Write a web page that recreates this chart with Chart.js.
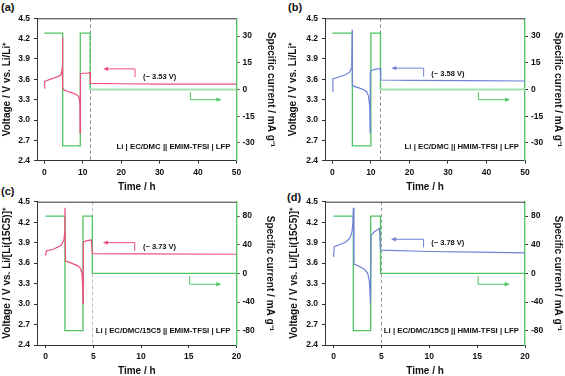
<!DOCTYPE html>
<html>
<head>
<meta charset="utf-8">
<script src="https://cdn.jsdelivr.net/npm/chart.js"></script>
<style>
  body { margin: 0; background: #fff; width: 565px; height: 376px; overflow: hidden; position: relative; font-family: 'Liberation Sans', Arial, sans-serif; }
  .tag { position: absolute; font-weight: bold; font-size: 11px; line-height: 12px; color: #111; }
</style>
</head>
<body>
<div class="tag" style="left:1px;top:1px">(a)</div>
<div class="tag" style="left:288px;top:1px">(b)</div>
<div class="tag" style="left:1px;top:185px">(c)</div>
<div class="tag" style="left:287px;top:191px">(d)</div>
<script>
  'use strict';

  /* ===================== Data ===================== */

  // (a) Li | EC/DMC || EMIM-TFSI | LFP
  const timeA = [0, 0.1, 0.5, 1.5, 2.5, 3.5, 4.2, 4.5, 4.68, 4.75, 4.8, 5.2, 6.1, 7.2, 8.2, 8.9, 9.15, 9.28, 9.3, 9.4, 10.0, 11.0, 11.8, 11.9, 12.0, 20, 30, 50];
  const voltA = [3.47, 3.57, 3.58, 3.60, 3.62, 3.64, 3.66, 3.70, 3.78, 4.22, 3.47, 3.44, 3.42, 3.40, 3.38, 3.35, 3.30, 3.20, 2.81, 3.68, 3.69, 3.69, 3.70, 3.70, 3.54, 3.535, 3.53, 3.53];
  const stepTimeA = [0, 4.78, 4.78, 9.36, 9.36, 11.9, 11.9, 50];
  const currA = [31.7, 31.7, -31.7, -31.7, 31.7, 31.7, 0, 0];

  // (b) Li | EC/DMC || HMIM-TFSI | LFP
  const timeB = [0, 0.15, 1.5, 3.6, 4.5, 4.9, 5.05, 5.15, 5.2, 5.5, 7.1, 8.4, 9.0, 9.4, 9.7, 9.8, 9.85, 10.05, 11.4, 12.3, 12.45, 12.55, 20, 35, 50];
  const voltB = [3.42, 3.61, 3.63, 3.67, 3.71, 3.76, 3.85, 4.33, 3.52, 3.50, 3.47, 3.44, 3.41, 3.35, 3.20, 2.81, 3.70, 3.73, 3.75, 3.76, 3.76, 3.59, 3.585, 3.58, 3.575];
  const stepTimeB = [0, 5.2, 5.2, 10.0, 10.0, 12.5, 12.5, 50];
  const currB = [31.7, 31.7, -31.7, -31.7, 31.7, 31.7, 0, 0];

  // (c) Li | EC/DMC/15C5 || EMIM-TFSI | LFP
  const timeC = [0, 0.07, 0.77, 1.64, 1.92, 2.0, 2.03, 2.08, 2.52, 3.39, 3.67, 3.81, 3.88, 3.92, 3.95, 4.34, 4.79, 4.9, 10, 20];
  const voltC = [3.71, 3.78, 3.80, 3.86, 3.94, 4.05, 4.41, 3.63, 3.61, 3.56, 3.52, 3.45, 3.28, 3.01, 3.91, 3.93, 3.94, 3.74, 3.735, 3.73];
  const stepTimeC = [0, 2.03, 2.03, 3.92, 3.92, 4.9, 4.9, 20];
  const currC = [80, 80, -80, -80, 80, 80, 0, 0];

  // (d) Li | EC/DMC/15C5 || HMIM-TFSI | LFP
  const timeD = [0, 0.07, 0.6, 1.29, 1.71, 1.92, 2.02, 2.06, 2.13, 2.69, 3.22, 3.57, 3.74, 3.85, 3.92, 4.27, 4.79, 4.9, 10, 15, 20];
  const voltD = [3.69, 3.84, 3.87, 3.91, 3.97, 4.06, 4.2, 4.41, 3.59, 3.55, 3.51, 3.45, 3.33, 3.01, 4.01, 4.06, 4.11, 3.79, 3.77, 3.76, 3.75];
  const stepTimeD = [0, 2.06, 2.06, 3.88, 3.88, 4.9, 4.9, 20];
  const currD = [80, 80, -80, -80, 80, 80, 0, 0];

  // tick labels
  const voltTicks = [2.4, 2.7, 3.0, 3.3, 3.6, 3.9, 4.2, 4.5];
  const currTicksAB = [-30, -15, 0, 15, 30];
  const currTicksCD = [-80, -40, 0, 40, 80];
  const timeTicksAB = [0, 10, 20, 30, 40, 50];
  const timeTicksCD = [0, 5, 10, 15, 20];

  /* ===================== Styles ===================== */

  const RED = '#ec4f7c';
  const BLUE = '#6f82d6';
  const GREEN = '#4fc462';
  const AXIS = '#333';
  const FONT = "'Liberation Sans', Arial, sans-serif";

  /* ===================== Extras plugin ===================== */

  function arrowHead(ctx, x, y, dir, color) {
    ctx.fillStyle = color;
    ctx.beginPath();
    ctx.moveTo(x, y);
    ctx.lineTo(x - dir * 5, y - 2.2);
    ctx.lineTo(x - dir * 5, y + 2.2);
    ctx.closePath();
    ctx.fill();
  }

  const extras = {
    id: 'extras',
    beforeDatasetsDraw(chart, args, o) {
      const { ctx, chartArea: a, scales: { x } } = chart;
      const dx = Math.round(x.getPixelForValue(o.rest)) + 0.5;
      ctx.save();
      ctx.strokeStyle = o.dashColor;
      ctx.lineWidth = 1;
      ctx.setLineDash([3.5, 2.5]);
      ctx.beginPath();
      ctx.moveTo(dx, a.top);
      ctx.lineTo(dx, a.bottom);
      ctx.stroke();
      ctx.restore();
    },
    afterDatasetsDraw(chart, args, o) {
      const { ctx, chartArea: a, scales: { x, y } } = chart;
      ctx.save();
      // top frame
      ctx.strokeStyle = AXIS;
      ctx.lineWidth = 1;
      ctx.beginPath();
      ctx.moveTo(a.left, a.top + 0.5);
      ctx.lineTo(a.right, a.top + 0.5);
      ctx.stroke();

      // arrow pointing to left axis
      const L = o.left;
      const lx1 = x.getPixelForValue(L.x1), lx2 = x.getPixelForValue(L.x2);
      const ly = y.getPixelForValue(L.y), ly2 = y.getPixelForValue(L.yDown);
      ctx.strokeStyle = o.color;
      ctx.beginPath();
      ctx.moveTo(lx1, ly2);
      ctx.lineTo(lx1, ly);
      ctx.lineTo(lx2 + 4, ly);
      ctx.stroke();
      arrowHead(ctx, lx2, ly, -1, o.color);

      // arrow pointing to right axis
      const R = o.right;
      const rx1 = x.getPixelForValue(R.x1), rx2 = x.getPixelForValue(R.x2);
      const ry1 = y.getPixelForValue(R.y1), ry2 = y.getPixelForValue(R.y2);
      ctx.strokeStyle = GREEN;
      ctx.beginPath();
      ctx.moveTo(rx1, ry1);
      ctx.lineTo(rx1, ry2);
      ctx.lineTo(rx2 - 4, ry2);
      ctx.stroke();
      arrowHead(ctx, rx2, ry2, 1, GREEN);

      // labels
      ctx.fillStyle = '#111';
      ctx.font = `bold 7.5px ${FONT}`;
      ctx.textBaseline = 'middle';
      ctx.textAlign = 'left';
      ctx.fillText(o.note.text, x.getPixelForValue(o.note.x), y.getPixelForValue(o.note.y));
      ctx.font = `bold 7.8px ${FONT}`;
      ctx.textAlign = 'right';
      ctx.fillText(o.cell, a.right - 6, a.bottom - 14);
      ctx.restore();
    }
  };

  /* ===================== Panels ===================== */

  function xy(ts, vs) {
    return ts.map((t, i) => ({ x: t, y: vs[i] }));
  }

  function setTicks(values) {
    return scale => { scale.ticks = values.map(v => ({ value: v })); };
  }

  function panel(p) {
    const canvas = document.createElement('canvas');
    canvas.width = p.box.w;
    canvas.height = p.box.h;
    canvas.style.cssText = `position:absolute;left:${p.box.x}px;top:${p.box.y}px`;
    document.body.appendChild(canvas);

    const leftW = p.plot.l - p.box.x;
    const rightW = p.box.x + p.box.w - p.plot.r;
    const bottomH = p.box.y + p.box.h - p.plot.b;
    const tickFont = { family: FONT, size: 8.5, weight: 'bold' };
    const titleFont = { family: FONT, size: 10, weight: 'bold' };
    // rest period of the current trace (0 mA/g) drawn in a paler green when asked
    const restSeg = {
      borderColor: c => (p.restColor && c.p0.parsed.y === 0 && c.p1.parsed.y === 0) ? p.restColor : GREEN,
      borderWidth: c => (p.restColor && c.p0.parsed.y === 0 && c.p1.parsed.y === 0) ? 2 : 1.3
    };

    new Chart(canvas, {
      type: 'line',
      data: {
        datasets: [
          { data: xy(p.time, p.volt), borderColor: p.color, borderWidth: 1.2, yAxisID: 'y' },
          { data: xy(p.stepTime, p.curr), borderColor: GREEN, borderWidth: 1.3, yAxisID: 'y1', segment: restSeg }
        ]
      },
      options: {
        responsive: false,
        animation: false,
        devicePixelRatio: 1,
        layout: { padding: { top: p.plot.t - p.box.y, left: 0, right: 0, bottom: 0 } },
        elements: { point: { radius: 0 }, line: { tension: 0 } },
        plugins: {
          legend: { display: false },
          tooltip: { enabled: false },
          extras: { rest: p.rest, dashColor: p.dashColor, color: p.color, left: p.left, right: p.right, note: p.note, cell: p.cell }
        },
        scales: {
          x: {
            type: 'linear',
            min: p.xMin,
            max: p.xMax,
            afterBuildTicks: setTicks(p.timeTicks),
            afterFit: s => { s.height = bottomH; },
            grid: { drawOnChartArea: false, tickLength: 3, color: AXIS },
            border: { color: AXIS, width: 1 },
            ticks: { font: tickFont, color: '#111', padding: 4, maxRotation: 0, callback: v => String(v) },
            title: { display: true, text: 'Time / h', font: titleFont, color: '#111', padding: { top: 0, bottom: p.box.y + p.box.h - p.titleY - 6 } }
          },
          y: {
            position: 'left',
            min: 2.4,
            max: 4.5,
            afterBuildTicks: setTicks(voltTicks),
            afterFit: s => { s.width = leftW; },
            grid: { drawOnChartArea: false, tickLength: 3, color: AXIS },
            border: { color: AXIS, width: 1 },
            ticks: { font: tickFont, color: '#111', padding: 4, callback: v => v.toFixed(1) },
            title: { display: true, text: p.vTitle, font: titleFont, color: '#111', padding: { top: p.leftTitleX - p.box.x - 6, bottom: 0 } }
          },
          y1: {
            position: 'right',
            min: p.cMin,
            max: p.cMax,
            afterBuildTicks: setTicks(p.currTicks),
            afterFit: s => { s.width = rightW; },
            grid: { drawOnChartArea: false, tickLength: 3, color: AXIS },
            border: { color: GREEN, width: 1.3 },
            ticks: { font: tickFont, color: '#111', padding: 3, callback: v => String(v) },
            title: { display: true, text: 'Specific current / mA g\u207B\u00B9', font: titleFont, color: '#111', padding: { top: p.box.x + p.box.w - p.rightTitleX - 6, bottom: 0 } }
          }
        }
      },
      plugins: [extras]
    });
  }

  const vTitleAB = 'Voltage / V vs. Li/Li\u207A';
  const vTitleCD = 'Voltage / V vs. Li/[Li(15C5)]\u207A';

  panel({
    box: { x: 0, y: 0, w: 282, h: 196 }, plot: { l: 37, r: 236.5, t: 18.3, b: 160.7 },
    titleY: 187.5, leftTitleX: 7.5, rightTitleX: 271,
    time: timeA, volt: voltA, stepTime: stepTimeA, curr: currA, color: RED, restColor: '#a6dfb0',
    xMin: -1.9, xMax: 50, timeTicks: timeTicksAB, cMin: -40, cMax: 40, currTicks: currTicksAB,
    vTitle: vTitleAB, rest: 11.9, dashColor: '#8c8c8c',
    left: { x1: 23.6, x2: 15.3, y: 3.754, yDown: 3.63 },
    right: { x1: 38.0, y1: 3.41, y2: 3.30, x2: 46.1 },
    note: { x: 25.7, y: 3.64, text: '(~ 3.53 V)' },
    cell: 'Li | EC/DMC || EMIM-TFSI | LFP'
  });

  panel({
    box: { x: 283, y: 0, w: 282, h: 196 }, plot: { l: 325, r: 525, t: 18.3, b: 160.7 },
    titleY: 187.5, leftTitleX: 293.3, rightTitleX: 558,
    time: timeB, volt: voltB, stepTime: stepTimeB, curr: currB, color: BLUE, restColor: '#a6dfb0',
    xMin: -1.9, xMax: 50, timeTicks: timeTicksAB, cMin: -40, cMax: 40, currTicks: currTicksAB,
    vTitle: vTitleAB, rest: 12.5, dashColor: '#8c8c8c',
    left: { x1: 23.7, x2: 15.3, y: 3.765, yDown: 3.64 },
    right: { x1: 37.9, y1: 3.41, y2: 3.30, x2: 46.1 },
    note: { x: 25.7, y: 3.68, text: '(~ 3.58 V)' },
    cell: 'Li | EC/DMC || HMIM-TFSI | LFP'
  });

  panel({
    box: { x: 0, y: 184, w: 282, h: 196 }, plot: { l: 37, r: 236.5, t: 201.7, b: 345 },
    titleY: 371.7, leftTitleX: 7.3, rightTitleX: 270,
    time: timeC, volt: voltC, stepTime: stepTimeC, curr: currC, color: RED,
    xMin: -0.9, xMax: 20, timeTicks: timeTicksCD, cMin: -100, cMax: 100, currTicks: currTicksCD,
    vTitle: vTitleCD, rest: 4.9, dashColor: '#bdbdbd',
    left: { x1: 9.34, x2: 6.0, y: 3.90, yDown: 3.78 },
    right: { x1: 15.1, y1: 3.41, y2: 3.29, x2: 18.4 },
    note: { x: 10.2, y: 3.84, text: '(~ 3.73 V)' },
    cell: 'Li | EC/DMC/15C5 || EMIM-TFSI | LFP'
  });

  panel({
    box: { x: 283, y: 184, w: 282, h: 196 }, plot: { l: 325, r: 525, t: 201.7, b: 345 },
    titleY: 371.7, leftTitleX: 294, rightTitleX: 558,
    time: timeD, volt: voltD, stepTime: stepTimeD, curr: currD, color: BLUE,
    xMin: -0.9, xMax: 20, timeTicks: timeTicksCD, cMin: -100, cMax: 100, currTicks: currTicksCD,
    vTitle: vTitleCD, rest: 4.9, dashColor: '#9a9a9a',
    left: { x1: 9.4, x2: 6.0, y: 3.95, yDown: 3.83 },
    right: { x1: 15.1, y1: 3.41, y2: 3.29, x2: 18.4 },
    note: { x: 10.2, y: 3.89, text: '(~ 3.78 V)' },
    cell: 'Li | EC/DMC/15C5 || HMIM-TFSI | LFP'
  });
</script>
</body>
</html>
